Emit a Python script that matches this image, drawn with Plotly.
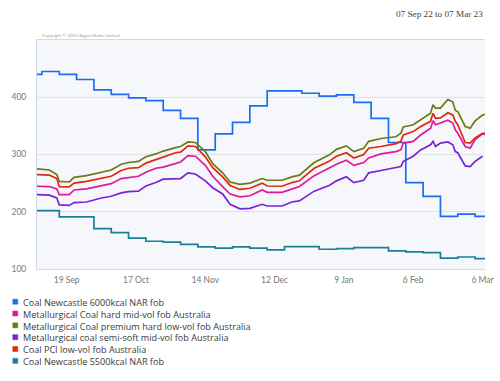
import plotly.graph_objects as go

# ---------------- data ----------------
met_dates = ["2022-09-07", "2022-09-12", "2022-09-15", "2022-09-16", "2022-09-20", "2022-09-22",
             "2022-09-27", "2022-10-03", "2022-10-07", "2022-10-11", "2022-10-14", "2022-10-18",
             "2022-10-21", "2022-10-25", "2022-10-28", "2022-11-02", "2022-11-04", "2022-11-07",
             "2022-11-10", "2022-11-14", "2022-11-17", "2022-11-21", "2022-11-24", "2022-11-28",
             "2022-12-02", "2022-12-07", "2022-12-09", "2022-12-15", "2022-12-19", "2022-12-22",
             "2022-12-28", "2023-01-03", "2023-01-06", "2023-01-10", "2023-01-13", "2023-01-17",
             "2023-01-19", "2023-01-24", "2023-01-30", "2023-02-01", "2023-02-02", "2023-02-06",
             "2023-02-09", "2023-02-13", "2023-02-14", "2023-02-15", "2023-02-17", "2023-02-20",
             "2023-02-22", "2023-02-23", "2023-02-24", "2023-02-27", "2023-03-01", "2023-03-03",
             "2023-03-06", "2023-03-07"]

premium_hard_lv = [275, 273, 265, 253, 252, 260, 263, 269, 273, 283, 286, 288, 296, 301, 306, 312, 314, 322,
                   321, 305, 284, 268, 252, 248, 250, 258, 255, 255, 261, 264, 286, 299, 309, 315, 305, 311,
                   323, 328, 331, 337, 348, 352, 360, 372, 387, 381, 381, 396, 392, 377, 375, 349, 346, 359,
                   369, 370]
pci_lv = [265, 264, 258, 244, 243.5, 250, 253, 259, 262, 272, 276, 277, 285, 291, 295, 303, 304, 315,
          314, 296, 277, 261, 246, 239, 241, 250, 245, 244.5, 251, 254, 276, 288, 297, 303, 294, 300,
          311, 314, 319, 323, 334, 340, 349, 358, 372, 363, 364, 373, 369, 358, 352, 321, 320, 329,
          337, 337]
hard_mv = [244.5, 244, 240, 230, 230, 238, 240, 246, 249, 258, 260, 262, 269, 276, 278, 285, 287, 298,
           297, 281, 262, 244, 231, 226, 228, 238, 234, 234, 240, 244, 263, 276, 283, 290, 281, 286,
           294, 301, 305, 308, 320, 323, 334, 346, 359, 352, 355, 360, 355, 343, 337, 314, 311, 326,
           336, 335]
semi_soft_mv = [230, 229, 224, 212, 211, 216, 217, 224, 227, 233, 235, 236, 245, 251, 257, 257, 258, 268,
                266, 254, 242, 231, 213, 205, 206, 213, 210, 210, 217, 219, 236, 246, 254, 261, 251, 255,
                268, 272, 277, 279, 288, 297, 308, 317, 323, 314, 320, 322, 317, 305, 303, 280, 279, 288,
                297, None]

nc_dates = ["2022-09-07", "2022-09-09", "2022-09-16", "2022-09-23", "2022-09-30", "2022-10-07",
            "2022-10-14", "2022-10-21", "2022-10-28", "2022-11-04", "2022-11-11", "2022-11-18",
            "2022-11-25", "2022-12-02", "2022-12-09", "2022-12-16", "2022-12-23", "2022-12-30",
            "2023-01-06", "2023-01-13", "2023-01-20", "2023-01-27", "2023-02-03", "2023-02-10",
            "2023-02-17", "2023-02-24", "2023-03-03", "2023-03-07"]
nc_6000 = [440, 445, 440, 431, 413, 405, 399, 394, 377, 363, 308, 336, 356, 385, 411, 411, 407, 402,
           404, 391, 363, 321, 251, 227, 192, 196, 192, 192]
nc_5500 = [202, 202, 191, 191, 170.5, 163.5, 154, 148.5, 147, 143, 138.5, 136.5, 138.5, 136.5, 133.5,
           139, 139, 134.5, 135.5, 137.5, 137.5, 131.5, 130, 128.5, 119, 121, 118, 118]

x_tick_dates = ["2022-09-19", "2022-10-17", "2022-11-14", "2022-12-12", "2023-01-09", "2023-02-06", "2023-03-06"]
x_tick_labels = ["19 Sep", "17 Oct", "14 Nov", "12 Dec", "9 Jan", "6 Feb", "6 Mar"]
y_ticks = [100, 200, 300, 400]

series_names = ["Coal Newcastle 6000kcal NAR fob",
                "Metallurgical Coal hard mid-vol fob Australia",
                "Metallurgical Coal premium hard low-vol fob Australia",
                "Metallurgical coal semi-soft mid-vol fob Australia",
                "Coal PCI low-vol fob Australia",
                "Coal Newcastle 5500kcal NAR fob"]
series_colors = ["#1b6ef0", "#e0189c", "#6c7a14", "#7b22d8", "#e0280e", "#1b7f9c"]

date_range_text = "07 Sep 22 to 07 Mar 23"
copyright_text = "Copyright © 2023 Argus Media Limited"

# ---------------- figure ----------------
fig = go.Figure()
series = [
    (nc_dates, nc_6000, "hv"),
    (met_dates, hard_mv, "linear"),
    (met_dates, premium_hard_lv, "linear"),
    (met_dates, semi_soft_mv, "linear"),
    (met_dates, pci_lv, "linear"),
    (nc_dates, nc_5500, "hv"),
]
for (xs, ys, shape), name, col in zip(series, series_names, series_colors):
    fig.add_trace(go.Scatter(x=xs, y=ys, name=name, mode="lines",
                             line=dict(color=col, width=1.7, shape=shape),
                             showlegend=False))

W, H = 500, 381
L, R, T, B = 37, 15, 40, 112
pw, ph = W - L - R, H - T - B

def px(xp):
    return (xp - L) / pw

def py(yp):
    return (H - B - yp) / ph

font_main = "Lato, 'Open Sans', sans-serif"
legend_font_size = 9.1
row_gap = 1.3 * legend_font_size  # plotly's line spacing for multi-line text
first_row = 301.7
annotations = []
shapes = []
# custom legend: colored squares + one multi-line text block
for i, col in enumerate(series_colors):
    yc = first_row + i * row_gap
    shapes.append(dict(type="rect", xref="paper", yref="paper",
                       x0=px(12.8), x1=px(17.8), y0=py(yc - 2.5), y1=py(yc + 2.5),
                       fillcolor=col, line=dict(color=col, width=0.5)))
legend_mid = first_row + (len(series_names) - 1) * row_gap / 2
annotations.append(dict(text="<br>".join(series_names), xref="paper", yref="paper",
                        x=px(21), y=py(legend_mid + 0.5), xanchor="left", yanchor="middle",
                        align="left", showarrow=False,
                        font=dict(family="'Open Sans', sans-serif", size=legend_font_size,
                                  color="#3a3a3a")))
annotations.append(dict(text=date_range_text, xref="paper", yref="paper", x=px(485), y=py(14),
                        xanchor="right", yanchor="middle", showarrow=False,
                        font=dict(family="'Liberation Serif', serif", size=9.2, color="#444444")))
annotations.append(dict(text=copyright_text, xref="paper", yref="paper", x=px(40), y=py(35),
                        xanchor="left", yanchor="middle", showarrow=False,
                        font=dict(family=font_main, size=4.5, color="#9a9a9a")))

fig.update_layout(
    width=W, height=H,
    margin=dict(l=L, r=R, t=T, b=B, pad=0, autoexpand=False),
    paper_bgcolor="white",
    plot_bgcolor="#f5f7fa",
    showlegend=False,
    hovermode=False,
    annotations=annotations,
    shapes=shapes,
    xaxis=dict(type="date", range=["2022-09-07", "2023-03-07"],
               tickvals=x_tick_dates, ticktext=x_tick_labels,
               showgrid=False, zeroline=False, automargin=False,
               showline=True, linecolor="#cfd8ec", linewidth=1, mirror=True,
               ticks="", tickfont=dict(family=font_main, size=8.5, color="#777777"),
               ticklabelstandoff=3),
    yaxis=dict(range=[100, 500], tickvals=y_ticks, ticktext=[str(v) for v in y_ticks],
               showgrid=True, gridcolor="#e2e2e2", gridwidth=1, zeroline=False, automargin=False,
               showline=True, linecolor="#cfd8ec", linewidth=1,
               ticks="", tickfont=dict(family=font_main, size=8.5, color="#777777"),
               ticklabelstandoff=8),
)

fig.write_html("out.html", config={"responsive": False, "displayModeBar": False},
               post_script="document.body.style.margin='0';document.body.style.overflow='hidden';")
